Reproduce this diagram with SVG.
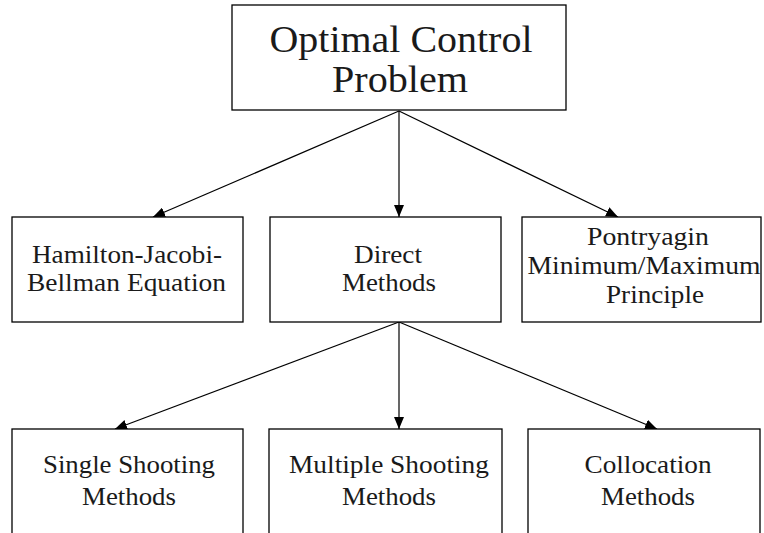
<svg xmlns="http://www.w3.org/2000/svg" width="764" height="533" viewBox="0 0 764 533">
  <style>
    .box { fill: #ffffff; stroke: #000000; stroke-width: 1.3; }
    .lbl { font-family: "Liberation Serif", "Times New Roman", serif; font-size: 26px; fill: #1a1a1a; text-anchor: middle; }
    .title { font-size: 38px; }
    .edge { stroke: #000000; stroke-width: 1.2; fill: none; marker-end: url(#arrow); }
  </style>
  <defs>
    <marker id="arrow" viewBox="0 0 12 10" refX="12" refY="5" markerWidth="12" markerHeight="10" markerUnits="userSpaceOnUse" orient="auto">
      <path d="M0,0 L12,5 L0,10 Z" fill="#000000"/>
    </marker>
  </defs>
  <rect width="764" height="533" fill="#ffffff"/>

  <!-- connectors -->
  <g id="connectors">
    <line class="edge" x1="399" y1="111" x2="153" y2="217"/>
    <line class="edge" x1="399" y1="111" x2="399" y2="217"/>
    <line class="edge" x1="399" y1="111" x2="618" y2="217"/>
    <line class="edge" x1="399" y1="322" x2="115" y2="429"/>
    <line class="edge" x1="399" y1="322" x2="399" y2="429"/>
    <line class="edge" x1="399" y1="322" x2="657" y2="429"/>
  </g>

  <!-- root -->
  <g id="ocp">
    <rect class="box" x="232" y="5" width="334" height="105"/>
    <text class="lbl title" x="401" y="52" textLength="263" lengthAdjust="spacingAndGlyphs">Optimal Control</text>
    <text class="lbl title" x="400" y="92" textLength="136" lengthAdjust="spacingAndGlyphs">Problem</text>
  </g>

  <!-- second level -->
  <g id="hjb">
    <rect class="box" x="12" y="217" width="231" height="105"/>
    <text class="lbl" x="127" y="263" textLength="190" lengthAdjust="spacingAndGlyphs">Hamilton-Jacobi-</text>
    <text class="lbl" x="126.5" y="291" textLength="199" lengthAdjust="spacingAndGlyphs">Bellman Equation</text>
  </g>
  <g id="direct">
    <rect class="box" x="270" y="217" width="231" height="105"/>
    <text class="lbl" x="388" y="263" textLength="68" lengthAdjust="spacingAndGlyphs">Direct</text>
    <text class="lbl" x="389" y="291" textLength="94" lengthAdjust="spacingAndGlyphs">Methods</text>
  </g>
  <g id="pmp">
    <rect class="box" x="522" y="217" width="239" height="105"/>
    <text class="lbl" x="648" y="245" textLength="122" lengthAdjust="spacingAndGlyphs">Pontryagin</text>
    <text class="lbl" x="644" y="274" textLength="233" lengthAdjust="spacingAndGlyphs">Minimum/Maximum</text>
    <text class="lbl" x="655" y="303" textLength="98" lengthAdjust="spacingAndGlyphs">Principle</text>
  </g>

  <!-- third level -->
  <g id="single">
    <rect class="box" x="12" y="429" width="231" height="130"/>
    <text class="lbl" x="129" y="473" textLength="172" lengthAdjust="spacingAndGlyphs">Single Shooting</text>
    <text class="lbl" x="129" y="505" textLength="94" lengthAdjust="spacingAndGlyphs">Methods</text>
  </g>
  <g id="multiple">
    <rect class="box" x="269" y="429" width="233" height="130"/>
    <text class="lbl" x="389" y="473" textLength="200" lengthAdjust="spacingAndGlyphs">Multiple Shooting</text>
    <text class="lbl" x="389" y="505" textLength="94" lengthAdjust="spacingAndGlyphs">Methods</text>
  </g>
  <g id="collocation">
    <rect class="box" x="528" y="429" width="232" height="130"/>
    <text class="lbl" x="648" y="473" textLength="127" lengthAdjust="spacingAndGlyphs">Collocation</text>
    <text class="lbl" x="648" y="505" textLength="94" lengthAdjust="spacingAndGlyphs">Methods</text>
  </g>
</svg>
